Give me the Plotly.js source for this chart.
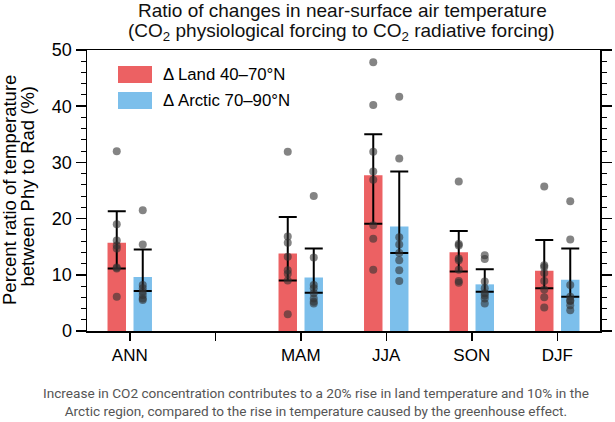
<!DOCTYPE html>
<html>
<head>
<meta charset="utf-8">
<script src="https://cdn.plot.ly/plotly-3.0.1.min.js"></script>
<style>
  html, body { margin: 0; padding: 0; background: #fff; }
  #chart { width: 615px; height: 422px; }
</style>
</head>
<body>
<div id="chart"></div>
<script>
// categories (slot 1 is an empty gap on the axis)
const categories = ['ANN', '', 'MAM', 'JJA', 'SON', 'DJF'];

// bar heights (%)
const landMean   = [15.7, null, 13.8, 27.7, 14.0, 10.7];
const arcticMean = [9.6,  null, 9.5,  18.6, 8.3,  9.1];

// error bar ends (%)
const landUpper   = [21.3, null, 20.3, 35.0, 17.8, 16.2];
const landLower   = [11.1, null, 9.0,  19.1, 10.6, 7.6];
const arcticUpper = [14.5, null, 14.7, 28.4, 11.0, 14.7];
const arcticLower = [7.1,  null, 6.8,  13.9, 7.0,  6.1];

// individual model values (%)
const landModels = [
  [32.0, 19.0, 16.1, 15.2, 14.7, 11.3, 11.1, 6.1],
  [],
  [31.9, 16.8, 15.7, 13.2, 10.8, 10.2, 9.0, 3.0],
  [47.8, 40.2, 31.9, 28.4, 26.9, 18.8, 16.4, 10.9],
  [26.6, 15.5, 15.2, 12.9, 12.6, 10.9, 8.9, 8.6],
  [25.7, 11.7, 11.4, 10.3, 8.9, 7.4, 6.0, 4.2]
];
const arcticModels = [
  [21.5, 15.4, 8.2, 7.6, 7.0, 6.4, 5.8, 5.5],
  [],
  [24.0, 13.1, 8.2, 7.6, 6.7, 5.8, 5.2, 4.9],
  [41.7, 30.7, 16.7, 15.4, 13.9, 12.6, 10.8, 8.9],
  [13.5, 12.8, 8.8, 7.6, 6.7, 6.3, 5.8, 4.9],
  [23.1, 16.3, 8.2, 6.1, 5.4, 5.4, 4.6, 3.7]
];

const landName = '\u0394 Land 40\u201370\u00b0N';
const arcticName = '\u0394 Arctic 70\u201390\u00b0N';

const landColor = '#ec6163';
const arcticColor = '#7cbfeb';
const dotColor = 'rgba(50,50,50,0.6)';
const offset = 0.152;
const barWidth = 0.216;

const idx = categories.map((c, i) => i);

function barTrace(means, upper, lower, shift, color, name) {
  return {
    type: 'bar',
    name: name,
    x: idx.map(i => i + shift),
    y: means,
    width: barWidth,
    marker: { color: color, line: { width: 0 } },
    error_y: {
      type: 'data',
      symmetric: false,
      array: means.map((m, i) => m == null ? null : upper[i] - m),
      arrayminus: means.map((m, i) => m == null ? null : m - lower[i]),
      color: '#000',
      thickness: 2,
      width: 9
    },
    hoverinfo: 'skip'
  };
}

function dotTrace(models, shift) {
  const xs = [], ys = [];
  models.forEach((vals, i) => {
    vals.forEach(v => { xs.push(i + shift); ys.push(v); });
  });
  return {
    type: 'scatter',
    mode: 'markers',
    x: xs,
    y: ys,
    marker: { size: 8, color: dotColor, line: { width: 0 } },
    hoverinfo: 'skip'
  };
}

const data = [
  barTrace(landMean, landUpper, landLower, -offset, landColor, landName),
  barTrace(arcticMean, arcticUpper, arcticLower, offset, arcticColor, arcticName),
  dotTrace(landModels, -offset),
  dotTrace(arcticModels, offset)
];

const font = 'Liberation Sans, Arial, sans-serif';

// paper coords helpers: plot area is x 87..600, y 50..331 px
const px = x => (x - 87) / 513;
const py = y => (331 - y) / 281;

const layout = {
  width: 615,
  height: 422,
  margin: { l: 87, r: 15, t: 50, b: 91 },
  paper_bgcolor: '#fff',
  plot_bgcolor: '#fff',
  showlegend: false,
  barmode: 'overlay',
  font: { family: font, color: '#000', size: 17 },
  xaxis: {
    range: [-0.5, 5.5],
    tickvals: idx,
    ticktext: categories,
    ticks: 'outside',
    ticklen: 8,
    tickwidth: 1.5,
    tickcolor: '#000',
    showline: true,
    linewidth: 1.5,
    linecolor: '#000',
    mirror: true,
    showgrid: false,
    zeroline: false,
    tickfont: { size: 17 }
  },
  yaxis: {
    range: [0, 50],
    dtick: 10,
    ticks: 'outside',
    ticklen: 10,
    tickwidth: 1.5,
    tickcolor: '#000',
    minor: { dtick: 2, ticks: 'outside', ticklen: 5, tickwidth: 1, tickcolor: '#000' },
    showline: true,
    linewidth: 1.5,
    linecolor: '#000',
    mirror: 'allticks',
    showgrid: false,
    zeroline: false,
    tickfont: { size: 18 }
  },
  shapes: [
    { type: 'rect', xref: 'paper', yref: 'paper', x0: px(118), x1: px(152), y0: py(83), y1: py(66),
      fillcolor: landColor, line: { width: 0 } },
    { type: 'rect', xref: 'paper', yref: 'paper', x0: px(118), x1: px(152), y0: py(109), y1: py(92),
      fillcolor: arcticColor, line: { width: 0 } }
  ],
  annotations: [
    // title, two lines
    { xref: 'paper', yref: 'paper', x: px(342), y: py(11), xanchor: 'center', yanchor: 'middle',
      text: 'Ratio of changes in near-surface air temperature', showarrow: false,
      font: { size: 19, color: '#111' } },
    { xref: 'paper', yref: 'paper', x: px(341), y: py(32), xanchor: 'center', yanchor: 'middle',
      text: '(CO<sub>2</sub> physiological forcing to CO<sub>2</sub> radiative forcing)', showarrow: false,
      font: { size: 19, color: '#111' } },
    // y axis title, two lines
    { xref: 'paper', yref: 'paper', x: px(9), y: py(190), xanchor: 'center', yanchor: 'middle',
      textangle: -90, text: 'Percent ratio of temperature', showarrow: false, font: { size: 18.5 } },
    { xref: 'paper', yref: 'paper', x: px(26.5), y: py(186), xanchor: 'center', yanchor: 'middle',
      textangle: -90, text: 'between Phy to Rad (%)', showarrow: false, font: { size: 18.5 } },
    // legend labels
    { xref: 'paper', yref: 'paper', x: px(161), y: py(74.5), xanchor: 'left', yanchor: 'middle',
      text: landName, showarrow: false, font: { size: 16.8 } },
    { xref: 'paper', yref: 'paper', x: px(161), y: py(100.5), xanchor: 'left', yanchor: 'middle',
      text: arcticName, showarrow: false, font: { size: 16.8 } },
    // caption
    { xref: 'paper', yref: 'paper', x: px(316), y: py(383), xanchor: 'center', yanchor: 'top',
      text: 'Increase in CO2 concentration contributes to a 20% rise in land temperature and 10% in the<br>Arctic region, compared to the rise in temperature caused by the greenhouse effect.',
      showarrow: false, align: 'center',
      font: { family: 'Roboto, sans-serif', size: 13.6, color: '#555' } }
  ]
};

Plotly.newPlot('chart', data, layout, { displayModeBar: false, staticPlot: true });
</script>
</body>
</html>
